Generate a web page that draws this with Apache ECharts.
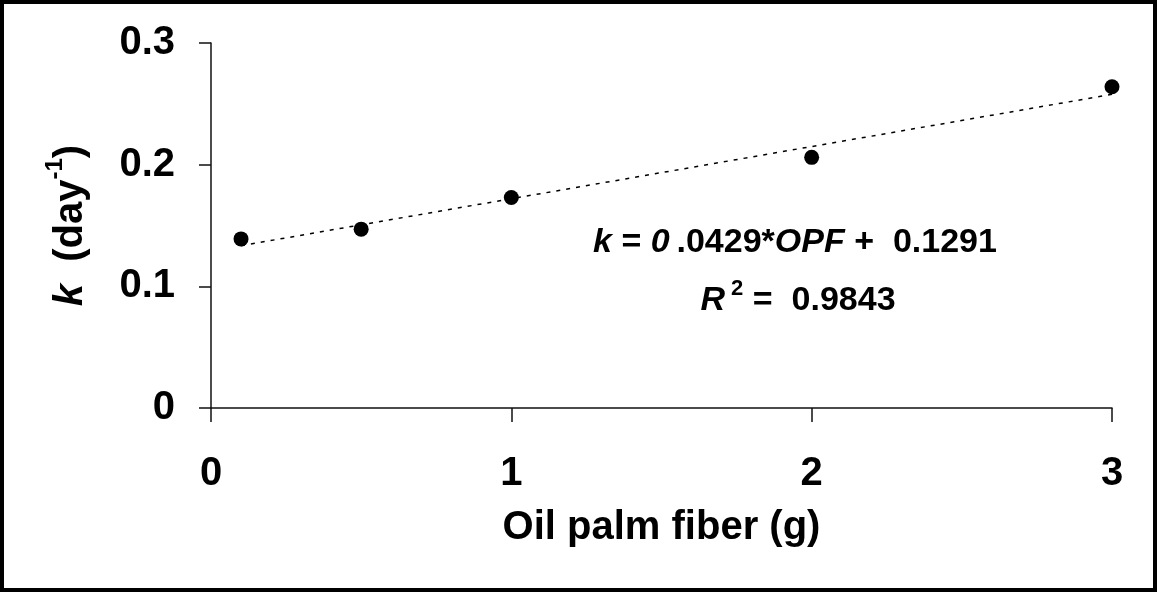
<!DOCTYPE html>
<html>
<head>
<meta charset="utf-8">
<script src="https://cdn.jsdelivr.net/npm/echarts@6/dist/echarts.min.js"></script>
<style>
html,body{margin:0;padding:0;background:#fff;}
#chart{width:1157px;height:592px;}
</style>
</head>
<body>
<div id="chart"></div>
<script>
// Data
const fiberGrams = [0.1, 0.5, 1, 2, 3];
const kValues = [0.139, 0.147, 0.173, 0.206, 0.264];
const trendX = [0.1, 3];
const trendY = [0.1334, 0.2578];
const xTicks = ['0', '1', '2', '3'];
const yTicks = ['0', '0.1', '0.2', '0.3'];
const eqLine1 = '{i|k}{n| = }{i|0\u2009}{n|.0429*}{i|OPF}{n| +  0.1291}';
const eqLine2 = '{i|R}{s| 2}{n| =  0.9843}';

const FONT = '"Liberation Sans", Arial, sans-serif';
const chart = echarts.init(document.getElementById('chart'));

chart.setOption({
  backgroundColor: '#fff',
  animation: false,
  grid: { left: 211, right: 45, top: 43, bottom: 184, containLabel: false, outerBoundsMode: 'none' },
  xAxis: {
    type: 'value', min: 0, max: 3, interval: 1,
    name: 'Oil palm fiber (g)', nameLocation: 'middle', nameGap: 100,
    nameTextStyle: { fontFamily: FONT, fontWeight: 'bold', fontSize: 40, color: '#000' },
    axisLine: { onZero: false, lineStyle: { color: '#111', width: 1.5 } },
    axisTick: { show: true, inside: false, length: 14, lineStyle: { color: '#111', width: 1.5 } },
    axisLabel: { margin: 46, fontFamily: FONT, fontWeight: 'bold', fontSize: 40, color: '#000',
      formatter: v => xTicks[Math.round(v)] },
    splitLine: { show: false }
  },
  yAxis: {
    type: 'value', min: 0, max: 0.3, interval: 0.1,
    name: '{i|k}{n|  (day}{s|-1}{n|)}', nameLocation: 'middle', nameGap: 120, nameRotate: 90,
    nameTextStyle: {
      fontFamily: FONT, fontWeight: 'bold', fontSize: 40, color: '#000',
      rich: {
        i: { fontFamily: FONT, fontWeight: 'bold', fontStyle: 'italic', fontSize: 40, color: '#000', lineHeight: 48, verticalAlign: 'bottom' },
        n: { fontFamily: FONT, fontWeight: 'bold', fontSize: 40, color: '#000', lineHeight: 48, verticalAlign: 'bottom' },
        s: { fontFamily: FONT, fontWeight: 'bold', fontSize: 24, color: '#000', lineHeight: 48, verticalAlign: 'top' }
      }
    },
    axisLine: { onZero: false, lineStyle: { color: '#111', width: 1.5 } },
    axisTick: { show: true, inside: false, length: 12, lineStyle: { color: '#111', width: 1.5 } },
    axisLabel: { margin: 36, fontFamily: FONT, fontWeight: 'bold', fontSize: 40, color: '#000',
      formatter: v => yTicks[Math.round(v * 10)] },
    splitLine: { show: false }
  },
  series: [
    {
      type: 'line',
      data: trendX.map((x, i) => [x, trendY[i]]),
      symbol: 'none',
      lineStyle: { color: '#000', width: 1.5, type: [4, 6] },
      silent: true, z: 1
    },
    {
      type: 'scatter',
      data: fiberGrams.map((x, i) => [x, kValues[i]]),
      symbol: 'circle', symbolSize: 15,
      itemStyle: { color: '#000', opacity: 1 }, z: 3
    }
  ],
  graphic: [
    {
      type: 'rect', silent: true, z: 100,
      shape: { x: 2, y: 2, width: 1153, height: 588 },
      style: { fill: 'none', stroke: '#000', lineWidth: 4 }
    },
    {
      type: 'text', x: 795, y: 243, z: 50,
      style: {
        text: eqLine1, align: 'center', verticalAlign: 'middle',
        rich: {
          i: { fontFamily: FONT, fontWeight: 'bold', fontStyle: 'italic', fontSize: 34, fill: '#000' },
          n: { fontFamily: FONT, fontWeight: 'bold', fontSize: 34, fill: '#000' }
        }
      }
    },
    {
      type: 'text', x: 798, y: 298, z: 50,
      style: {
        text: eqLine2, align: 'center', verticalAlign: 'middle',
        rich: {
          i: { fontFamily: FONT, fontWeight: 'bold', fontStyle: 'italic', fontSize: 34, fill: '#000', lineHeight: 40, verticalAlign: 'bottom' },
          n: { fontFamily: FONT, fontWeight: 'bold', fontSize: 34, fill: '#000', lineHeight: 40, verticalAlign: 'bottom' },
          s: { fontFamily: FONT, fontWeight: 'bold', fontSize: 22, fill: '#000', lineHeight: 40, verticalAlign: 'top' }
        }
      }
    }
  ]
});
</script>
</body>
</html>
